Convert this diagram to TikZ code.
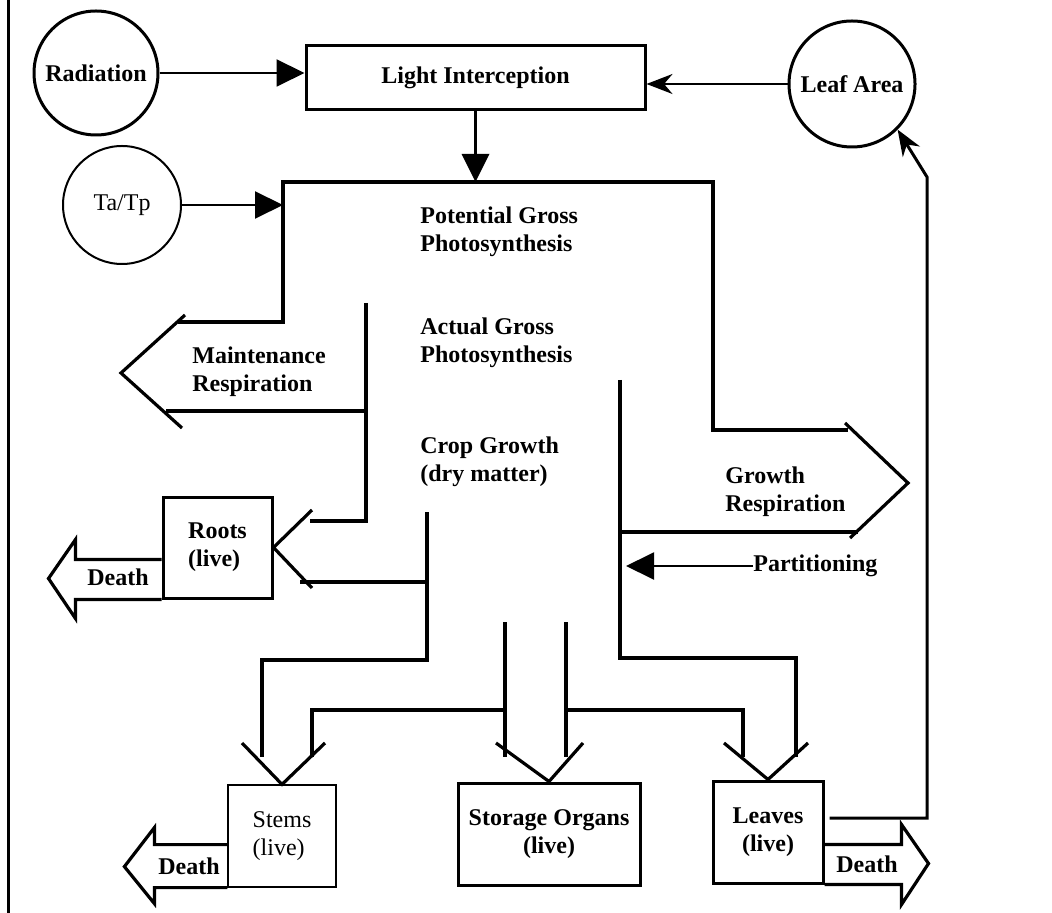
\documentclass[tikz,border=0pt]{standalone}
\usepackage{fontspec}
\setmainfont{Liberation Serif}
\usetikzlibrary{arrows.meta, positioning, calc}

\begin{document}
\fontsize{12}{14}\selectfont
\begin{tikzpicture}[
    % one unit = one pixel of the sketch, y runs downwards
    x=0.5pt, y=-0.5pt,
    >=Stealth,
    % inputs that drive the model (circles)
    driver/.style = {
        circle,
        draw,
        line width=1.5pt,
        minimum size=62pt,
        inner sep=0pt,
        font=\bfseries
    },
    % plant pools (boxes)
    pool/.style = {
        rectangle,
        draw,
        line width=1.5pt,
        align=center,
        inner sep=2pt,
        font=\bfseries
    },
    % free text inside the flow
    flowtext/.style = {
        align=left,
        inner sep=0pt,
        font=\bfseries
    },
    % outlines of the flow pipes
    pipe/.style = {draw, line width=1.6pt, line join=miter},
    % thin arrows with large solid heads
    feed/.style = {draw, line width=1pt, -{Triangle[length=14pt, width=13.5pt]}}
]
    \useasboundingbox (0,0) rectangle (1052,913);

    % --- NODES ---

    % driving inputs
    \node [driver] (rad) at (96,73) {Radiation};
    \node [driver, minimum size=59pt, line width=1pt, font=\normalfont] (tatp) at (122,205) {Ta/Tp};
    \node [driver, minimum size=63pt] (leaf) at (852,84) {Leaf Area};

    % light interception on top
    \node [pool, minimum width=169.5pt, minimum height=32pt] (light) at (475.5,78) {Light Interception};

    % plant organs
    \node [pool, align=left, minimum width=54.5pt, minimum height=50.5pt] (roots) at (217.5,547.5) {Roots\\(live)};
    \node [pool, align=left, line width=0.6pt, font=\normalfont, minimum width=54pt, minimum height=51pt] (stems) at (282,836) {Stems\\(live)};
    \node [pool, minimum width=91pt, minimum height=51pt] (storage) at (549,834) {Storage Organs\\(live)};
    \node [pool, minimum width=55pt, minimum height=51pt] (leaves) at (768,832) {Leaves\\(live)};

    % labels in the flow
    \node [flowtext, anchor=west] (pgross) at (420,232) {Potential Gross\\Photosynthesis};
    \node [flowtext, anchor=west] (agross) at (420,343) {Actual Gross\\Photosynthesis};
    \node [flowtext, anchor=west] (growth) at (420,462) {Crop Growth\\(dry matter)};
    \node [flowtext, anchor=west] (maint) at (192,372) {Maintenance\\Respiration};
    \node [flowtext, anchor=west] (grresp) at (725,492) {Growth\\Respiration};
    \node [flowtext, anchor=west] (part) at (753,566) {Partitioning};
    \node [flowtext] (rdeath) at (118,577) {Death};
    \node [flowtext] (sdeath) at (189,866) {Death};
    \node [flowtext] (ldeath) at (867,864) {Death};

    % corners of the gross photosynthesis pipe
    \coordinate (gtl) at (283,182);
    \coordinate (gtr) at (713,182);

    % --- ARROWS ---

    \draw [feed] (rad.east) -- (rad.east -| light.west);
    \draw [feed] (tatp.east) -- (tatp.east -| gtl);
    \draw [feed, line width=1.8pt] (light.south) -- (light.south |- gtl);
    \draw [line width=1pt, -{Stealth[length=13pt, width=10pt]}] (leaf.west) -- (leaf.west -| light.east);
    \draw [feed] (part.west) -- ++(-127,0);

    % --- FLOW PIPES ---

    % gross photosynthesis, maintenance and growth respiration
    \draw [pipe] (178,322) -- (283,322) -- (gtl) -- (gtr) -- (713,430) -- (848,430);
    \draw [pipe] (185,315) -- (121,373) -- (182,428);
    \draw [pipe] (166,411) -- (366,411);
    \draw [pipe] (845,423) -- (908,483) -- (850,538);
    \draw [pipe] (620,532) -- (858,532);

    % to the roots
    \draw [pipe] (366,303) -- (366,521) -- (310,521);
    \draw [pipe] (312,510) -- (roots.east) -- (312,588);
    \draw [pipe] (300,582) -- (427,582);

    % to the stems
    \draw [pipe] (427,512) -- (427,660) -- (262,660) -- (262,757);
    \draw [pipe] (242,743) -- (stems.north) -- (325,743);
    \draw [pipe] (312,757) -- (312,710) -- (505,710);

    % to the storage organs
    \draw [pipe] (505,622) -- (505,757);
    \draw [pipe] (566,622) -- (566,757);
    \draw [pipe] (496,743) -- (storage.north) -- (583,743);

    % to the leaves
    \draw [pipe] (566,710) -- (743,710) -- (743,757);
    \draw [pipe] (620,380) -- (620,658) -- (796,658) -- (796,757);
    \draw [pipe] (724,743) -- (leaves.north) -- (808,743);

    % death of the organs
    \draw [pipe] ($(roots.south west)+(0,-40)$) -- ++(-86,0) -- ++(0,-20) -- ++(-27,39) -- ++(27,40) -- ++(0,-19) -- (roots.south west);
    \draw [pipe] ($(stems.south west)+(0,-43)$) -- ++(-73,0) -- ++(0,-17) -- ++(-30,39) -- ++(30,37) -- ++(0,-16) -- (stems.south west);
    \draw [pipe] ($(leaves.south east)+(0,-40)$) -- ++(77,0) -- ++(0,-20) -- ++(27,39) -- ++(-27,41) -- ++(0,-20) -- (leaves.south east);

    % leaves feed back to leaf area
    \draw [line width=1.5pt, -{Stealth[length=13pt, width=10pt]}] ([xshift=2.5pt, yshift=7pt]leaves.east) -| (927,177) -- (leaf.-45);

    % frame on the left
    \draw [line width=1.5pt] (8,0) -- (8,913);

\end{tikzpicture}
\end{document}
